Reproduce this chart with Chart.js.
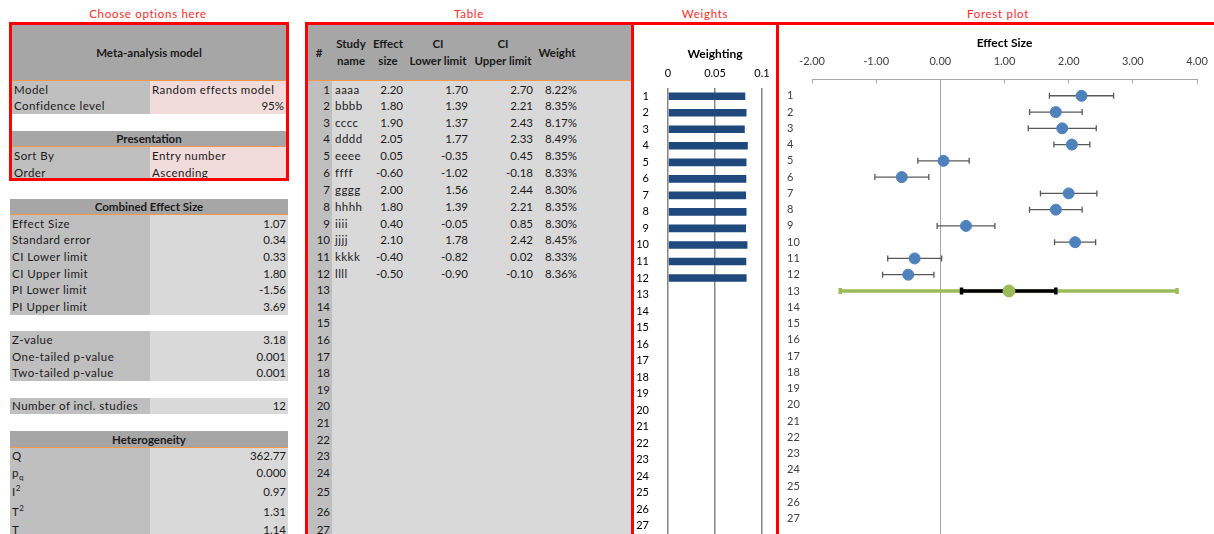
<!DOCTYPE html>
<html>
<head>
<meta charset="utf-8">
<script src="https://cdn.jsdelivr.net/npm/chart.js@4.4.0/dist/chart.umd.min.js"></script>
<style>
body{margin:0;width:1214px;height:534px;overflow:hidden;background:#fff;position:relative;
  font-family:Lato,"Open Sans",sans-serif;font-size:11.5px;color:#1a1a1a}
.sec{position:absolute;top:7px;color:#ff2a2a;letter-spacing:0.7px;transform:translateX(-50%);white-space:nowrap}
.box{position:absolute;border:3px solid #ff0000;box-sizing:border-box;z-index:5}
.cell{position:absolute;white-space:nowrap;overflow:hidden;box-sizing:border-box;padding:0 2px}
.lbl{letter-spacing:0.45px}
.hd{font-weight:bold;text-align:center;line-height:17px;position:absolute;transform:translateX(-50%);white-space:nowrap}
canvas{position:absolute}
sub,sup{font-size:8px;line-height:0}
</style>
</head>
<body>
<div class="sec" style="left:148px">Choose options here</div>
<div class="sec" style="left:469px">Table</div>
<div class="sec" style="left:705px">Weights</div>
<div class="sec" style="left:998px">Forest plot</div>

<div class="box" style="left:9px;top:22px;width:280px;height:159px"></div>
<div class="box" style="left:305px;top:22px;width:329px;height:540px"></div>
<div class="box" style="left:631px;top:22px;width:148px;height:540px"></div>
<div class="box" style="left:776px;top:22px;width:460px;height:540px"></div>

<canvas id="weightChart" width="142" height="509" style="left:634px;top:25px"></canvas>
<canvas id="forestChart" width="435" height="517" style="left:779px;top:25px"></canvas>

<script>
// study table
const studyNames = ['aaaa', 'bbbb', 'cccc', 'dddd', 'eeee', 'ffff', 'gggg', 'hhhh', 'iiii', 'jjjj', 'kkkk', 'llll'];
const effectSizes = [2.20, 1.80, 1.90, 2.05, 0.05, -0.60, 2.00, 1.80, 0.40, 2.10, -0.40, -0.50];
const ciLower = [1.70, 1.39, 1.37, 1.77, -0.35, -1.02, 1.56, 1.39, -0.05, 1.78, -0.82, -0.90];
const ciUpper = [2.70, 2.21, 2.43, 2.33, 0.45, -0.18, 2.44, 2.21, 0.85, 2.42, 0.02, -0.10];
const weightPct = [8.22, 8.35, 8.17, 8.49, 8.35, 8.33, 8.30, 8.35, 8.30, 8.45, 8.33, 8.36];
const rowLabels = ['1', '2', '3', '4', '5', '6', '7', '8', '9', '10', '11', '12', '13', '14',
    '15', '16', '17', '18', '19', '20', '21', '22', '23', '24', '25', '26', '27'];

// combined result (row 13 of the forest plot)
const summaryRow = 13;
const combinedEffect = 1.07;
const combinedCI = [0.33, 1.80];
const predictionInterval = [-1.56, 3.69];

// axis ranges
const forestRange = [-2, 4];
const weightRange = [0, 0.1];

// left hand panels
const optionRows = [['Model', 'Random effects model'], ['Confidence level', '95%'], ['Sort By', 'Entry number'], ['Order', 'Ascending']];
const combinedRows = [['Effect Size', '1.07'], ['Standard error', '0.34'], ['CI Lower limit', '0.33'],
    ['CI Upper limit', '1.80'], ['PI Lower limit', '-1.56'], ['PI Upper limit', '3.69']];
const testRows = [['Z-value', '3.18'], ['One-tailed p-value', '0.001'], ['Two-tailed p-value', '0.001']];
const countRows = [['Number of incl. studies', '12']];
const heteroRows = [['Q', '362.77'], ['p<sub>q</sub>', '0.000'], ['I<sup>2</sup>', '0.97'], ['T<sup>2</sup>', '1.31'], ['T', '1.14']];

// sheet row geometry
const rowTop = [];
let yy = 81;
for (let i = 1; i <= 28; i++) {
    rowTop.push(Math.round(yy));
    yy += (i === 7 ? 18 : i === 25 ? 21 : i === 26 ? 19 : i === 27 ? 17 : 16.6);
}
const rt = r => rowTop[r - 1];
const rh = r => rowTop[r] - rowTop[r - 1];

function cell(x, y, w, h, bg, html, align, cls, css) {
    const d = document.createElement('div');
    d.className = 'cell' + (cls ? ' ' + cls : '');
    d.style.cssText = `left:${x}px;top:${y}px;width:${w}px;height:${h}px;line-height:${h}px;` +
        `background:${bg};text-align:${align || 'left'};` + (css || '');
    d.innerHTML = html;
    document.body.appendChild(d);
    return d;
}

// options box
cell(12, 25, 274, 56, '#a6a6a6', 'Meta-analysis model', 'center', '', 'font-weight:bold;border-bottom:1px solid #f79646');
cell(12, rt(1), 138, rh(1), '#bfbfbf', optionRows[0][0], 'left', 'lbl');
cell(150, rt(1), 136, rh(1), '#f2dcdb', optionRows[0][1], 'left', 'lbl');
cell(12, rt(2), 138, rh(2), '#bfbfbf', optionRows[1][0], 'left', 'lbl');
cell(150, rt(2), 136, rh(2), '#f2dcdb', optionRows[1][1], 'right');
cell(12, rt(4), 274, rh(4), '#a6a6a6', 'Presentation', 'center', '', 'font-weight:bold;border-bottom:1px solid #f79646');
[5, 6].forEach((r, k) => {
    cell(12, rt(r), 138, rh(r), '#bfbfbf', optionRows[k + 2][0], 'left', 'lbl');
    cell(150, rt(r), 136, rh(r), '#f2dcdb', optionRows[k + 2][1], 'left', 'lbl');
});

// statistics blocks
function block(startRow, rows) {
    rows.forEach((p, k) => {
        const r = startRow + k;
        cell(10, rt(r), 140, rh(r), '#bfbfbf', p[0], 'left', 'lbl');
        cell(150, rt(r), 138, rh(r), '#d9d9d9', p[1], 'right');
    });
}
cell(10, rt(8), 278, rh(8), '#a6a6a6', 'Combined Effect Size', 'center', '', 'font-weight:bold;border-bottom:1px solid #f79646');
block(9, combinedRows);
block(16, testRows);
block(20, countRows);
cell(10, rt(22), 278, rh(22), '#a6a6a6', 'Heterogeneity', 'center', '', 'font-weight:bold;border-bottom:1px solid #f79646');
block(23, heteroRows);

// study table
cell(308, 25, 323, 56, '#a6a6a6', '', 'left', '', 'border-bottom:1px solid #f79646');
function head(x, html) {
    const d = document.createElement('div');
    d.className = 'hd';
    d.style.left = x + 'px';
    d.style.top = (html.includes('<br>') ? 35 : 44) + 'px';
    d.innerHTML = html;
    document.body.appendChild(d);
}
head(319, '#');
head(351, 'Study<br>name');
head(388, 'Effect<br>size');
head(438, 'CI<br>Lower limit');
head(503, 'CI<br>Upper limit');
head(557, 'Weight');
cell(332, 81, 299, 460, '#d9d9d9', '');
rowLabels.forEach((lab, i) => {
    const r = i + 1;
    cell(308, rt(r), 24, rh(r), '#bfbfbf', lab, 'right');
});
function num(right, r, txt) {
    cell(right - 70, rt(r), 70, rh(r), 'transparent', txt, 'right', '', 'padding:0');
}
studyNames.forEach((n, i) => {
    const r = i + 1;
    cell(333, rt(r), 50, rh(r), 'transparent', n, 'left', 'lbl');
    num(403, r, effectSizes[i].toFixed(2));
    num(468, r, ciLower[i].toFixed(2));
    num(533, r, ciUpper[i].toFixed(2));
    num(577, r, weightPct[i].toFixed(2) + '%');
});

Chart.defaults.font.family = 'Lato, "Open Sans", sans-serif';
Chart.defaults.font.size = 11;
Chart.defaults.color = '#262626';

// weights bar chart
new Chart(document.getElementById('weightChart'), {
    type: 'bar',
    data: {
        labels: rowLabels,
        datasets: [{
            data: weightPct.map(w => w / 100),
            backgroundColor: '#1f497d',
            barPercentage: 0.46,
            categoryPercentage: 1
        }]
    },
    options: {
        indexAxis: 'y',
        responsive: false,
        animation: false,
        layout: { padding: { left: 0, right: 14, top: 0, bottom: 0 } },
        plugins: { legend: { display: false }, tooltip: { enabled: false } },
        scales: {
            x: {
                position: 'top', min: weightRange[0], max: weightRange[1],
                title: { display: true, text: 'Weighting', color: '#000', font: { size: 12, weight: 'bold' }, padding: { top: 22, bottom: 0 } },
                ticks: { stepSize: 0.05, padding: 8, color: '#000', callback: v => String(+v.toFixed(2)) },
                grid: { color: '#868686', lineWidth: 1.5, drawTicks: false },
                border: { display: false },
                afterFit: s => { s.height = 63; s.paddingLeft = 0; s.paddingRight = 0; }
            },
            y: {
                ticks: { padding: 11, color: '#000' },
                grid: { display: false },
                border: { display: false },
                afterFit: s => { s.width = 34; s.paddingTop = 0; s.paddingBottom = 0; }
            }
        }
    }
});

// forest plot
const capLine = (color, width, radius) => ({
    showLine: true, borderColor: color, borderWidth: width,
    pointStyle: 'line', pointRotation: 90, pointRadius: radius,
    pointBorderColor: color, pointBorderWidth: width, pointHoverRadius: radius
});
const datasets = [];
datasets.push({
    data: effectSizes.map((v, i) => ({ x: v, y: i + 1 })),
    pointRadius: 5.5, pointBackgroundColor: '#4f81bd', pointBorderColor: '#4f81bd', order: 0
});
datasets.push({
    data: [{ x: combinedEffect, y: summaryRow }],
    pointRadius: 6, pointBackgroundColor: '#9bbb59', pointBorderColor: '#9bbb59', order: 0
});
datasets.push(Object.assign(capLine('#000000', 3.5, 3.5), {
    data: [{ x: combinedCI[0], y: summaryRow }, { x: combinedCI[1], y: summaryRow }], order: 1
}));
datasets.push(Object.assign(capLine('#9bbb59', 3.5, 3), {
    data: [{ x: predictionInterval[0], y: summaryRow }, { x: predictionInterval[1], y: summaryRow }], order: 2
}));
studyNames.forEach((n, i) => {
    datasets.push(Object.assign(capLine('#595959', 1.3, 3), {
        data: [{ x: ciLower[i], y: i + 1 }, { x: ciUpper[i], y: i + 1 }], order: 3
    }));
});

new Chart(document.getElementById('forestChart'), {
    type: 'scatter',
    data: { datasets: datasets },
    options: {
        responsive: false,
        animation: false,
        layout: { padding: { left: 8, right: 17, top: 0, bottom: 0 } },
        plugins: { legend: { display: false }, tooltip: { enabled: false } },
        scales: {
            x: {
                position: 'top', min: forestRange[0], max: forestRange[1],
                title: { display: true, text: 'Effect Size', color: '#000', font: { size: 12, weight: 'bold' }, padding: { top: 11, bottom: 0 } },
                ticks: { stepSize: 1, padding: 15, color: '#404040', callback: v => v.toFixed(2) },
                grid: {
                    color: c => (c.tick && c.tick.value === 0) ? '#a6a6a6' : 'rgba(0,0,0,0)',
                    tickColor: '#a6a6a6', tickLength: -4, lineWidth: 1
                },
                border: { color: '#a6a6a6' },
                afterFit: s => { s.height = 54.5; s.paddingLeft = 0; s.paddingRight = 0; }
            },
            y: {
                reverse: true, min: 0, max: 28,
                ticks: {
                    stepSize: 1, autoSkip: false, crossAlign: 'far', padding: 0, color: '#404040',
                    callback: v => (v >= 1 && v <= rowLabels.length) ? rowLabels[v - 1] : ''
                },
                grid: { display: false },
                border: { display: false },
                afterFit: s => { s.width = 25; s.paddingTop = 0; s.paddingBottom = 0; }
            }
        }
    }
});
</script>
</body>
</html>
